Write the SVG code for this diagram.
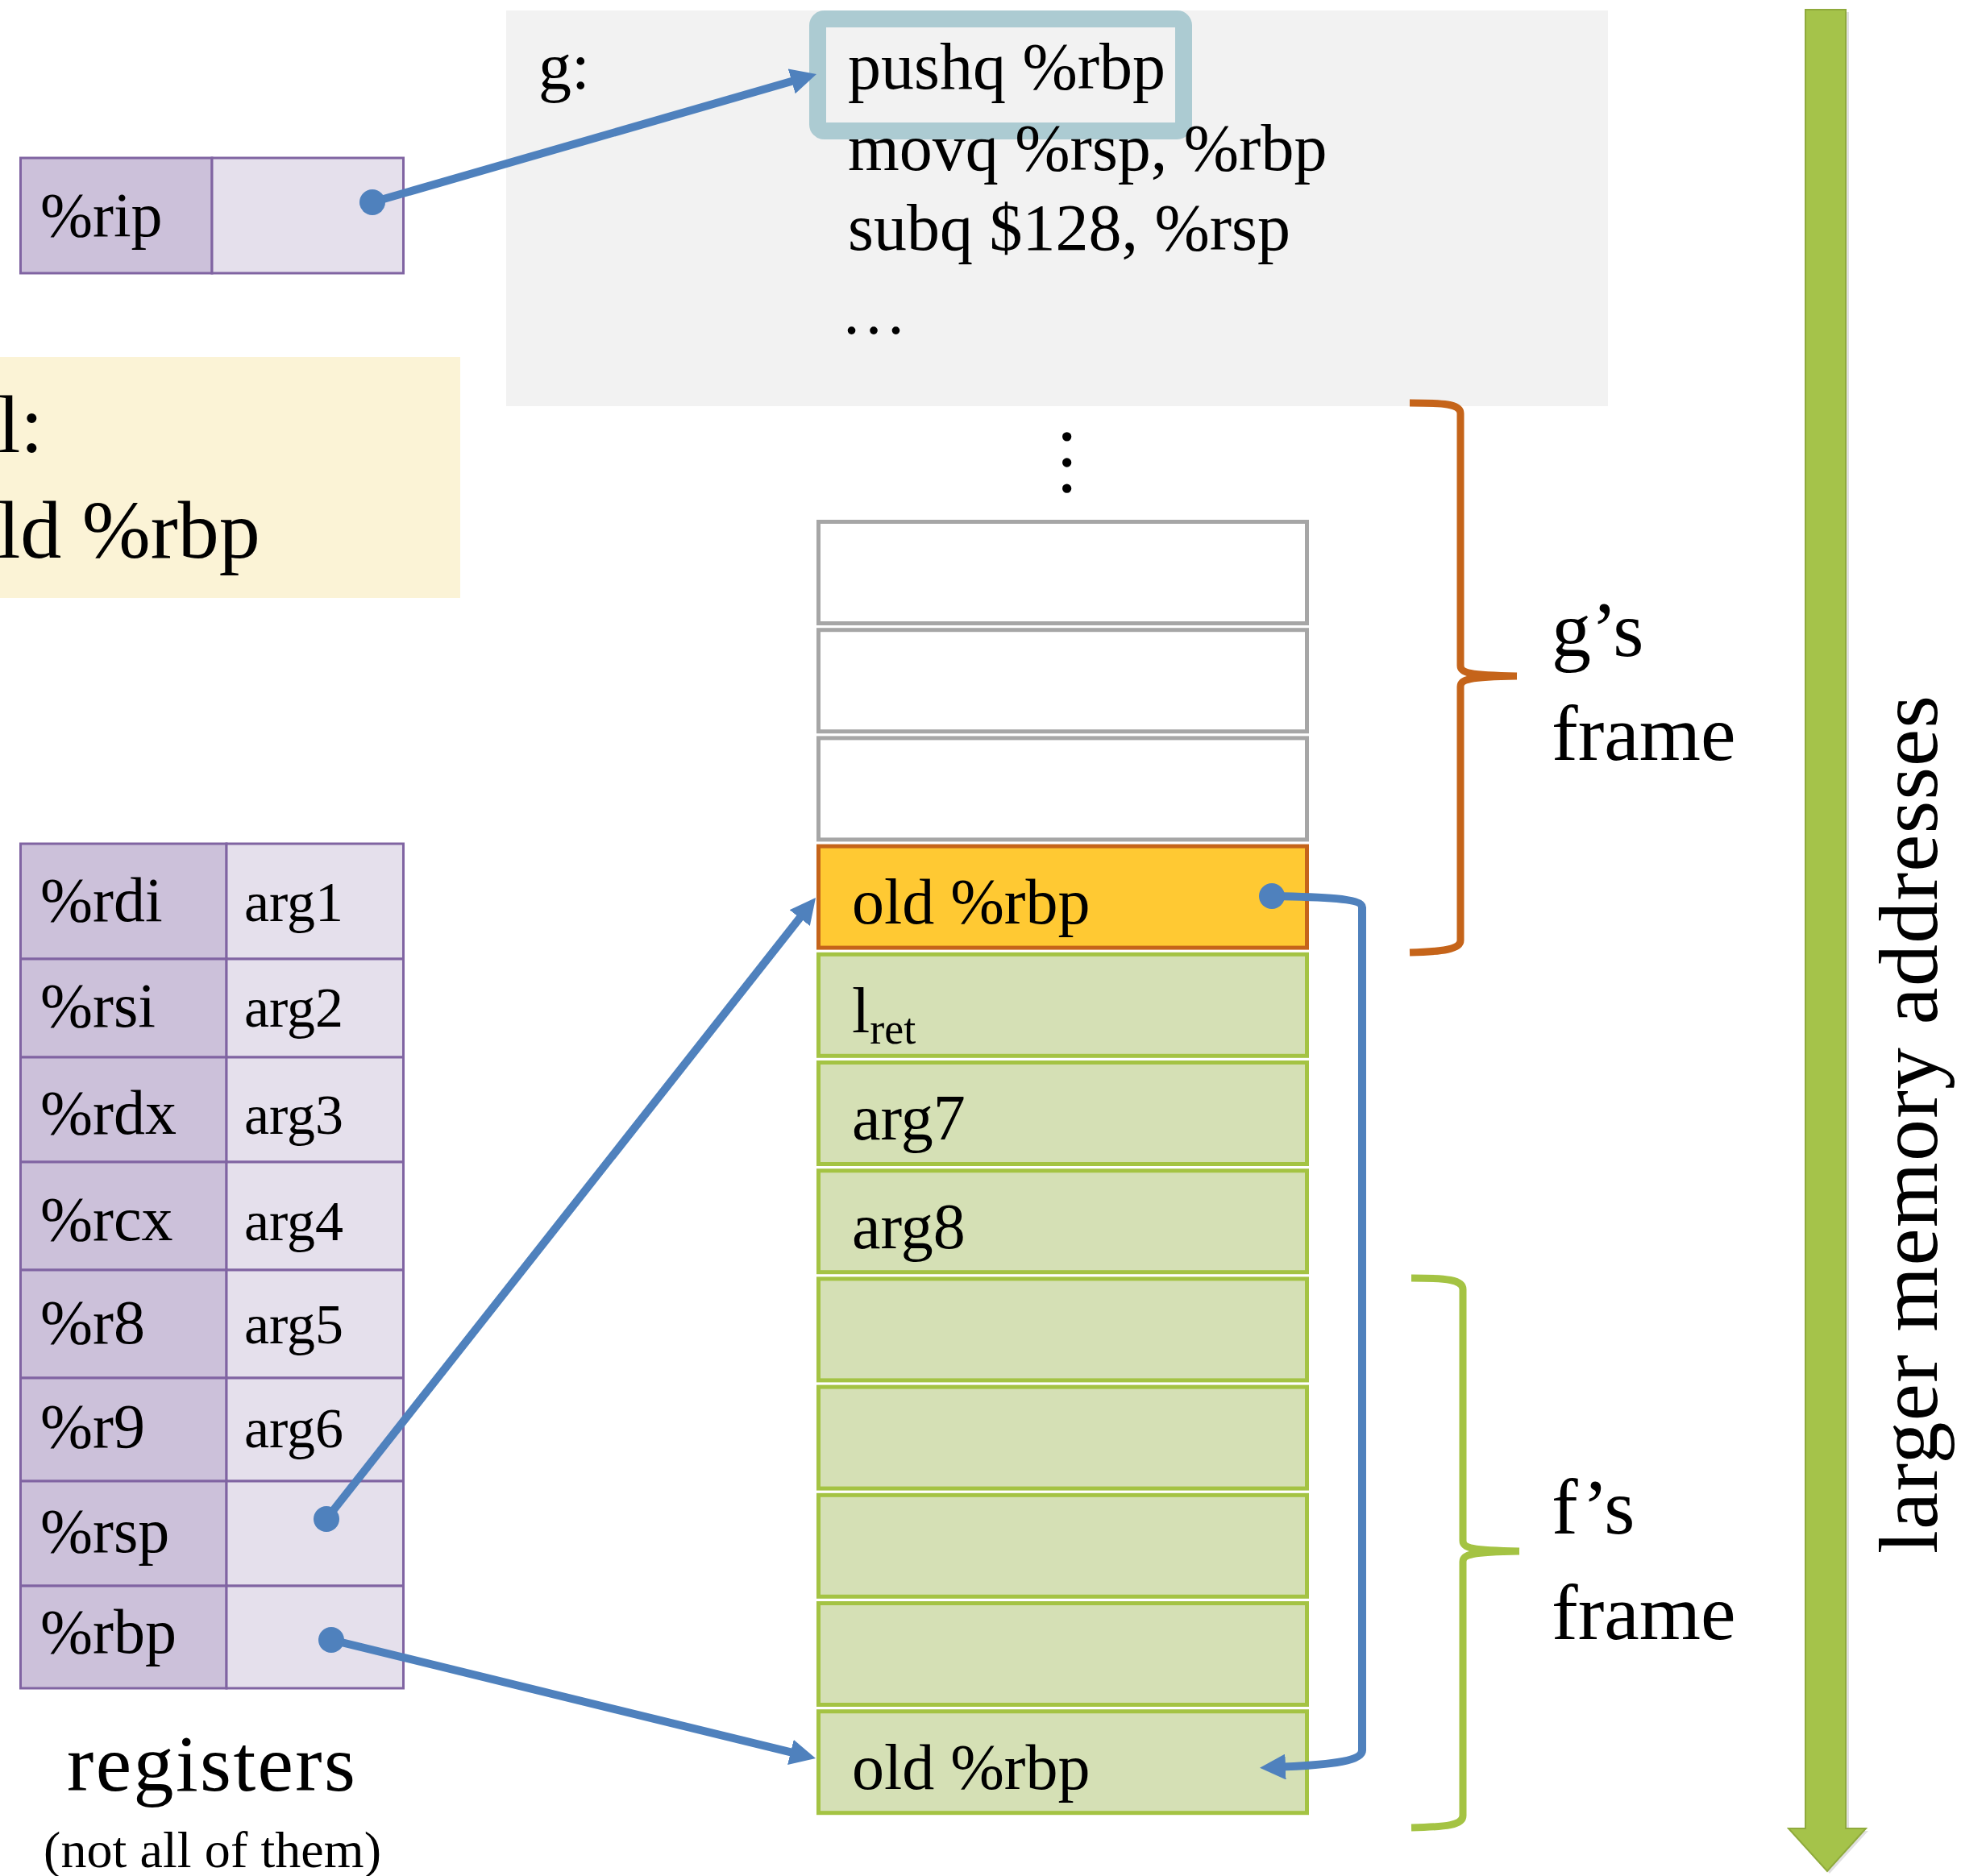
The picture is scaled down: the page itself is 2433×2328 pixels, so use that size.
<svg xmlns="http://www.w3.org/2000/svg" width="2433" height="2328" viewBox="0 0 2433 2328">
  <style>
    .t { font-family: "Liberation Serif", "Times New Roman", serif; fill: #000; }
    .reg-name { fill: #CCC1DA; stroke: #8064A2; stroke-width: 3; }
    .reg-val { fill: #E5E0EC; stroke: #8064A2; stroke-width: 3; }
    .slot-empty { fill: #FFFFFF; stroke: #A6A6A6; stroke-width: 5; }
    .slot-g { fill: #FFC933; stroke: #C5641A; stroke-width: 5; }
    .slot-f { fill: #D5E0B5; stroke: #A4C343; stroke-width: 5; }
    .wire { fill: none; stroke: #4F81BD; stroke-width: 10; marker-start: url(#dot); marker-end: url(#arrow); }
    .brace { fill: none; stroke-width: 9; }
  </style>
  <defs>
    <marker id="arrow" viewBox="0 0 32 32" refX="14" refY="16" markerWidth="32" markerHeight="32" markerUnits="userSpaceOnUse" orient="auto">
      <path d="M0,0 L32,16 L0,32 z" fill="#4F81BD"/>
    </marker>
    <marker id="dot" viewBox="-16 -16 32 32" refX="0" refY="0" markerWidth="32" markerHeight="32" markerUnits="userSpaceOnUse">
      <circle r="16" fill="#4F81BD"/>
    </marker>
  </defs>

  <rect width="2433" height="2328" fill="#FFFFFF"/>

  <!-- code of g -->
  <g id="code-g">
    <rect x="628" y="13" width="1367" height="491" fill="#F2F2F2"/>
    <rect x="1014.5" y="23.5" width="454" height="139" rx="8" fill="none" stroke="#ACCBD2" stroke-width="21"/>
    <text class="t" x="668" y="110" font-size="82">g:</text>
    <text class="t" x="1052" y="110" font-size="82">pushq %rbp</text>
    <text class="t" x="1052" y="211" font-size="82">movq %rsp, %rbp</text>
    <text class="t" x="1052" y="310" font-size="82">subq $128, %rsp</text>
    <text class="t" x="1043" y="414" font-size="82">…</text>
  </g>

  <!-- note box, partly off the left edge -->
  <g id="note">
    <rect x="0" y="443" width="571" height="299" fill="#FBF3D6"/>
    <text class="t" x="-3" y="561" font-size="102">l:</text>
    <text class="t" x="-3" y="692" font-size="102">ld %rbp</text>
  </g>

  <!-- instruction pointer -->
  <g id="reg-rip">
    <rect class="reg-name" x="25.5" y="196" width="237.5" height="143"/>
    <rect class="reg-val" x="263" y="196" width="237.5" height="143"/>
    <text class="t" x="50" y="293" font-size="78">%rip</text>
  </g>

  <!-- register file -->
  <g id="registers">
    <g id="reg-rdi">
      <rect class="reg-name" x="25.5" y="1047" width="255.5" height="143"/>
      <rect class="reg-val" x="281" y="1047" width="219.5" height="143"/>
      <text class="t" x="50" y="1143" font-size="78">%rdi</text>
      <text class="t" x="303" y="1143" font-size="70">arg1</text>
    </g>
    <g id="reg-rsi">
      <rect class="reg-name" x="25.5" y="1190" width="255.5" height="122"/>
      <rect class="reg-val" x="281" y="1190" width="219.5" height="122"/>
      <text class="t" x="50" y="1274" font-size="78">%rsi</text>
      <text class="t" x="303" y="1274" font-size="70">arg2</text>
    </g>
    <g id="reg-rdx">
      <rect class="reg-name" x="25.5" y="1312" width="255.5" height="130"/>
      <rect class="reg-val" x="281" y="1312" width="219.5" height="130"/>
      <text class="t" x="50" y="1407" font-size="78">%rdx</text>
      <text class="t" x="303" y="1407" font-size="70">arg3</text>
    </g>
    <g id="reg-rcx">
      <rect class="reg-name" x="25.5" y="1442" width="255.5" height="134"/>
      <rect class="reg-val" x="281" y="1442" width="219.5" height="134"/>
      <text class="t" x="50" y="1539" font-size="78">%rcx</text>
      <text class="t" x="303" y="1539" font-size="70">arg4</text>
    </g>
    <g id="reg-r8">
      <rect class="reg-name" x="25.5" y="1576" width="255.5" height="134"/>
      <rect class="reg-val" x="281" y="1576" width="219.5" height="134"/>
      <text class="t" x="50" y="1667" font-size="78">%r8</text>
      <text class="t" x="303" y="1667" font-size="70">arg5</text>
    </g>
    <g id="reg-r9">
      <rect class="reg-name" x="25.5" y="1710" width="255.5" height="128"/>
      <rect class="reg-val" x="281" y="1710" width="219.5" height="128"/>
      <text class="t" x="50" y="1796" font-size="78">%r9</text>
      <text class="t" x="303" y="1796" font-size="70">arg6</text>
    </g>
    <g id="reg-rsp">
      <rect class="reg-name" x="25.5" y="1838" width="255.5" height="130"/>
      <rect class="reg-val" x="281" y="1838" width="219.5" height="130"/>
      <text class="t" x="50" y="1926" font-size="78">%rsp</text>
    </g>
    <g id="reg-rbp">
      <rect class="reg-name" x="25.5" y="1968" width="255.5" height="127"/>
      <rect class="reg-val" x="281" y="1968" width="219.5" height="127"/>
      <text class="t" x="50" y="2051" font-size="78">%rbp</text>
    </g>
    <g id="registers-caption">
      <text class="t" x="83" y="2222" font-size="100" textLength="358" lengthAdjust="spacing">registers</text>
      <text class="t" x="54" y="2317" font-size="64" textLength="419" lengthAdjust="spacing">(not all of them)</text>
    </g>
  </g>

  <!-- stack -->
  <g id="stack">
    <text class="t" transform="translate(1319,526) rotate(90)" font-size="96">…</text>
    <g id="slot-0"><rect class="slot-empty" x="1015.5" y="647.5" width="606" height="126"/></g>
    <g id="slot-1"><rect class="slot-empty" x="1015.5" y="781.7" width="606" height="126"/></g>
    <g id="slot-2"><rect class="slot-empty" x="1015.5" y="915.9" width="606" height="126"/></g>
    <g id="slot-3">
      <rect class="slot-g" x="1015.5" y="1050.1" width="606" height="126"/>
      <text class="t" x="1057" y="1146" font-size="80">old %rbp</text>
    </g>
    <g id="slot-4">
      <rect class="slot-f" x="1015.5" y="1184.3" width="606" height="126"/>
      <text class="t" x="1057" y="1281" font-size="80">l<tspan font-size="54" dy="14">ret</tspan></text>
    </g>
    <g id="slot-5">
      <rect class="slot-f" x="1015.5" y="1318.5" width="606" height="126"/>
      <text class="t" x="1057" y="1414" font-size="80">arg7</text>
    </g>
    <g id="slot-6">
      <rect class="slot-f" x="1015.5" y="1452.7" width="606" height="126"/>
      <text class="t" x="1057" y="1549" font-size="80">arg8</text>
    </g>
    <g id="slot-7"><rect class="slot-f" x="1015.5" y="1586.9" width="606" height="126"/></g>
    <g id="slot-8"><rect class="slot-f" x="1015.5" y="1721.1" width="606" height="126"/></g>
    <g id="slot-9"><rect class="slot-f" x="1015.5" y="1855.3" width="606" height="126"/></g>
    <g id="slot-10"><rect class="slot-f" x="1015.5" y="1989.5" width="606" height="126"/></g>
    <g id="slot-11">
      <rect class="slot-f" x="1015.5" y="2123.7" width="606" height="126"/>
      <text class="t" x="1057" y="2220" font-size="80">old %rbp</text>
    </g>
  </g>

  <!-- frame braces and labels -->
  <g id="frame-g">
    <path class="brace" stroke="#C5641A" d="M1749,500 C1790,500 1812,501 1812,513 L1812,826 C1812,835 1822,838 1882,839 M1882,839 C1822,840 1812,843 1812,852 L1812,1167 C1812,1178 1790,1181 1749,1182"/>
    <text class="t" x="1925" y="814" font-size="98">g’s</text>
    <text class="t" x="1925" y="943" font-size="98">frame</text>
  </g>
  <g id="frame-f">
    <path class="brace" stroke="#A4C343" d="M1751,1586 C1795,1586 1815,1588 1815,1600 L1815,1912 C1815,1921 1825,1924 1885,1925 M1885,1925 C1825,1926 1815,1929 1815,1938 L1815,2253 C1815,2265 1795,2267 1751,2268"/>
    <text class="t" x="1925" y="1903" font-size="98">f’s</text>
    <text class="t" x="1925" y="2034" font-size="98">frame</text>
  </g>

  <!-- address direction -->
  <g id="address-axis">
    <polygon points="2244,15 2294,15 2294,2272 2318,2272 2270,2325 2222,2272 2244,2272" fill="#000" opacity="0.12"/>
    <polygon points="2240,12 2290,12 2290,2269 2315,2269 2267,2322 2219,2269 2240,2269" fill="#A5C34A" stroke="#8FAA3C" stroke-width="2"/>
    <text class="t" transform="translate(2403,1928) rotate(-90)" font-size="104" textLength="1065" lengthAdjust="spacing">larger memory addresses</text>
  </g>

  <!-- pointers -->
  <g id="connectors">
    <path class="wire" d="M462,251 L995.7,97"/>
    <path class="wire" d="M405,1885 L1000.9,1128.1"/>
    <path class="wire" d="M411,2035 L994.5,2177.7"/>
    <path class="wire" d="M1578,1112 C1640,1113 1690,1115 1690,1126 L1690,2172 C1690,2184 1660,2190 1581,2193"/>
  </g>
</svg>
